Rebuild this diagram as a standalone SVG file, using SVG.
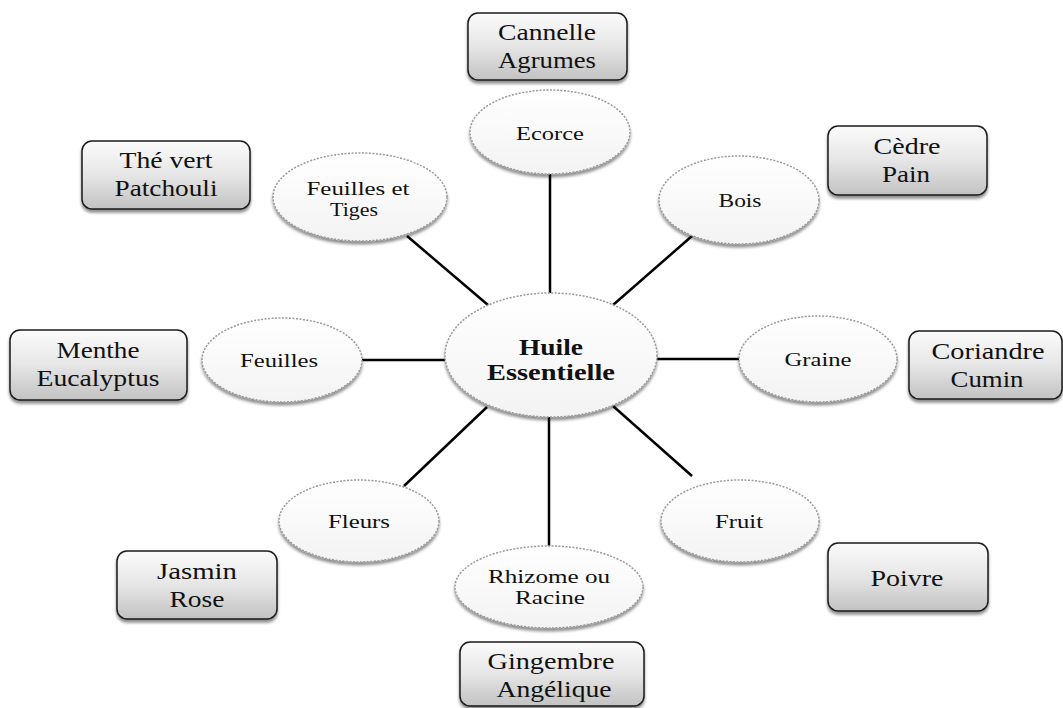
<svg xmlns="http://www.w3.org/2000/svg" width="1063" height="708" viewBox="0 0 1063 708">
<defs>
<linearGradient id="boxg" x1="0" y1="0" x2="0" y2="1">
<stop offset="0" stop-color="#fbfbfb"/>
<stop offset="0.5" stop-color="#e6e6e6"/>
<stop offset="1" stop-color="#c2c2c2"/>
</linearGradient>
<linearGradient id="ellg" x1="0" y1="0" x2="0" y2="1">
<stop offset="0" stop-color="#ffffff"/>
<stop offset="1" stop-color="#f3f3f3"/>
</linearGradient>
<filter id="sh" x="-10%" y="-10%" width="120%" height="130%">
<feGaussianBlur in="SourceAlpha" stdDeviation="1.5"/>
<feOffset dx="0" dy="2.5" result="b"/>
<feComponentTransfer><feFuncA type="linear" slope="0.45"/></feComponentTransfer>
<feMerge><feMergeNode/><feMergeNode in="SourceGraphic"/></feMerge>
</filter>
</defs>
<style>
.box{fill:url(#boxg);stroke:#1a1a1a;stroke-width:1.5;filter:url(#sh)}
.ell{fill:url(#ellg);stroke:#9a9a9a;stroke-width:1.5;stroke-dasharray:2 1.5;filter:url(#sh)}
.bt{font-family:"Liberation Serif",serif;font-size:23px;fill:#111;text-anchor:middle}
.et{font-family:"Liberation Serif",serif;font-size:18px;fill:#111;text-anchor:middle}
.ct{font-family:"Liberation Serif",serif;font-size:23px;font-weight:bold;fill:#111;text-anchor:middle}
.ln{stroke:#000;stroke-width:2.5;fill:none}
</style>
<rect width="1063" height="708" fill="#fff"/>
<g id="connectors">
<line class="ln" x1="550" y1="174" x2="550" y2="293"/>
<line class="ln" x1="692" y1="236" x2="613" y2="305"/>
<line class="ln" x1="657" y1="359" x2="739" y2="359"/>
<line class="ln" x1="613" y1="406" x2="692" y2="476"/>
<line class="ln" x1="549" y1="417" x2="549" y2="546"/>
<line class="ln" x1="487" y1="407" x2="404" y2="486"/>
<line class="ln" x1="362" y1="360" x2="445" y2="360"/>
<line class="ln" x1="407" y1="236" x2="488" y2="305"/>
</g>
<g id="center">
<ellipse class="ell" cx="551" cy="355" rx="106" ry="62"/>
<text class="ct" x="551" y="355" textLength="64" lengthAdjust="spacingAndGlyphs">Huile</text>
<text class="ct" x="551" y="380" textLength="128" lengthAdjust="spacingAndGlyphs">Essentielle</text>
</g>
<g id="ecorce">
<ellipse class="ell" cx="550" cy="132" rx="80" ry="42"/>
<text class="et" x="550" y="140" textLength="68" lengthAdjust="spacingAndGlyphs">Ecorce</text>
</g>
<g id="feuilles-tiges">
<ellipse class="ell" cx="360" cy="197" rx="87" ry="44"/>
<text class="et" x="358" y="195" textLength="103" lengthAdjust="spacingAndGlyphs">Feuilles et</text>
<text class="et" x="354" y="216" textLength="48" lengthAdjust="spacingAndGlyphs">Tiges</text>
</g>
<g id="bois">
<ellipse class="ell" cx="739" cy="200" rx="80" ry="44"/>
<text class="et" x="740" y="207" textLength="43" lengthAdjust="spacingAndGlyphs">Bois</text>
</g>
<g id="feuilles">
<ellipse class="ell" cx="282" cy="360" rx="80" ry="42"/>
<text class="et" x="279" y="367" textLength="78" lengthAdjust="spacingAndGlyphs">Feuilles</text>
</g>
<g id="graine">
<ellipse class="ell" cx="818" cy="359" rx="79" ry="43"/>
<text class="et" x="818" y="366" textLength="67" lengthAdjust="spacingAndGlyphs">Graine</text>
</g>
<g id="fleurs">
<ellipse class="ell" cx="359" cy="521" rx="80" ry="41"/>
<text class="et" x="359" y="528" textLength="62" lengthAdjust="spacingAndGlyphs">Fleurs</text>
</g>
<g id="fruit">
<ellipse class="ell" cx="740" cy="521" rx="79" ry="41"/>
<text class="et" x="739" y="528" textLength="48" lengthAdjust="spacingAndGlyphs">Fruit</text>
</g>
<g id="rhizome">
<ellipse class="ell" cx="549" cy="587" rx="94" ry="41"/>
<text class="et" x="549" y="583" textLength="122" lengthAdjust="spacingAndGlyphs">Rhizome ou</text>
<text class="et" x="550" y="604" textLength="70" lengthAdjust="spacingAndGlyphs">Racine</text>
</g>
<g id="cannelle">
<rect class="box" x="468" y="13" width="159" height="67" rx="10"/>
<text class="bt" x="547" y="40" textLength="98" lengthAdjust="spacingAndGlyphs">Cannelle</text>
<text class="bt" x="547" y="68" textLength="98" lengthAdjust="spacingAndGlyphs">Agrumes</text>
</g>
<g id="the-vert">
<rect class="box" x="82" y="141" width="168" height="68" rx="10"/>
<text class="bt" x="166" y="168" textLength="93" lengthAdjust="spacingAndGlyphs">Thé vert</text>
<text class="bt" x="166" y="196" textLength="103" lengthAdjust="spacingAndGlyphs">Patchouli</text>
</g>
<g id="cedre">
<rect class="box" x="828" y="126" width="159" height="69" rx="10"/>
<text class="bt" x="907" y="154" textLength="67" lengthAdjust="spacingAndGlyphs">Cèdre</text>
<text class="bt" x="906" y="182" textLength="48" lengthAdjust="spacingAndGlyphs">Pain</text>
</g>
<g id="menthe">
<rect class="box" x="10" y="330" width="177" height="70" rx="10"/>
<text class="bt" x="98" y="358" textLength="83" lengthAdjust="spacingAndGlyphs">Menthe</text>
<text class="bt" x="98" y="386" textLength="123" lengthAdjust="spacingAndGlyphs">Eucalyptus</text>
</g>
<g id="coriandre">
<rect class="box" x="909" y="331" width="153" height="68" rx="10"/>
<text class="bt" x="988" y="359" textLength="113" lengthAdjust="spacingAndGlyphs">Coriandre</text>
<text class="bt" x="987" y="387" textLength="73" lengthAdjust="spacingAndGlyphs">Cumin</text>
</g>
<g id="jasmin">
<rect class="box" x="117" y="551" width="160" height="68" rx="10"/>
<text class="bt" x="197" y="579" textLength="80" lengthAdjust="spacingAndGlyphs">Jasmin</text>
<text class="bt" x="197" y="607" textLength="55" lengthAdjust="spacingAndGlyphs">Rose</text>
</g>
<g id="poivre">
<rect class="box" x="828" y="543" width="160" height="68" rx="10"/>
<text class="bt" x="907" y="586" textLength="73" lengthAdjust="spacingAndGlyphs">Poivre</text>
</g>
<g id="gingembre">
<rect class="box" x="460" y="642" width="184" height="64" rx="10"/>
<text class="bt" x="551" y="669" textLength="127" lengthAdjust="spacingAndGlyphs">Gingembre</text>
<text class="bt" x="554" y="697" textLength="115" lengthAdjust="spacingAndGlyphs">Angélique</text>
</g>
</svg>
